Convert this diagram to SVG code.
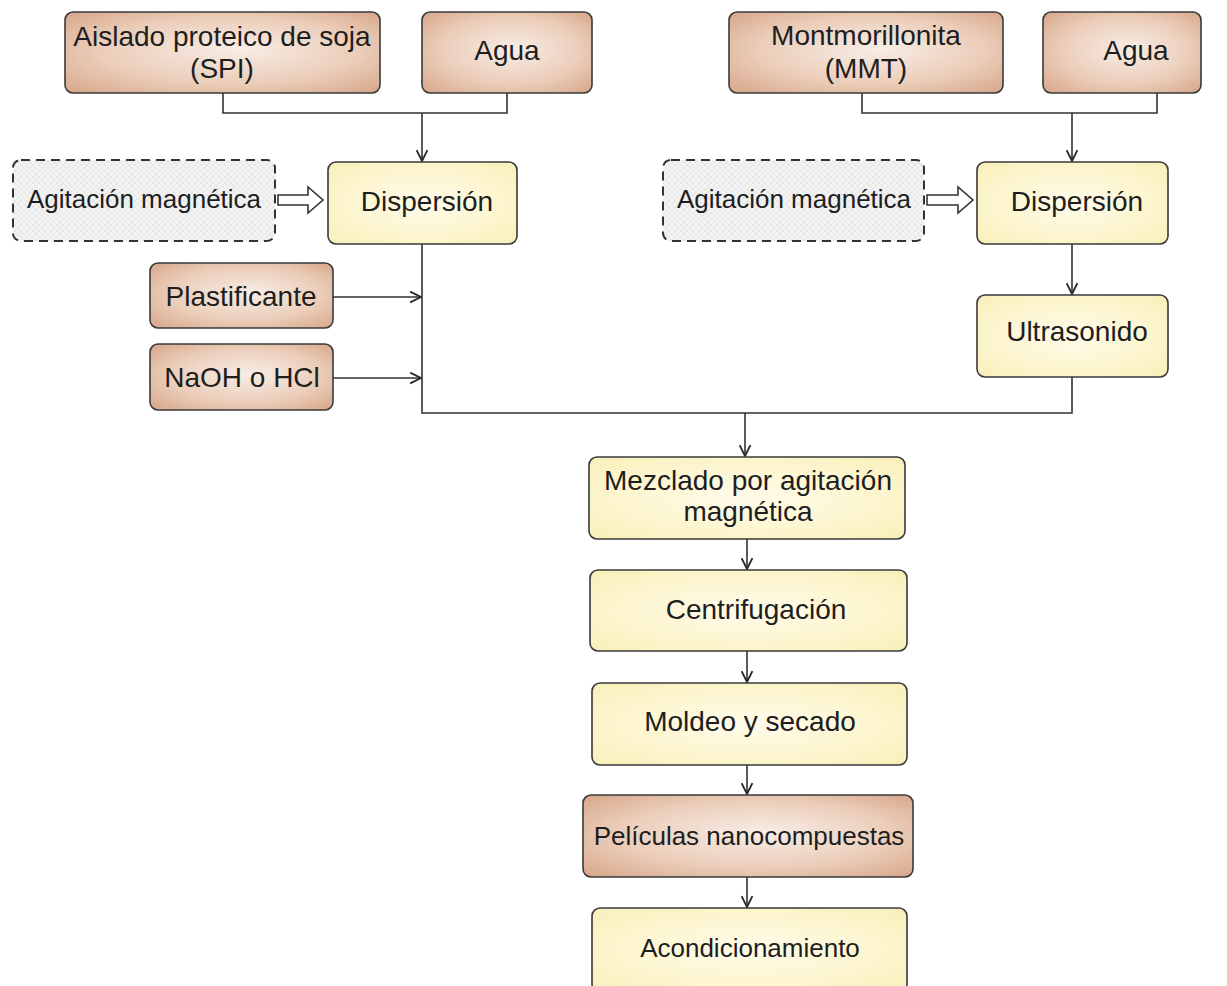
<svg xmlns="http://www.w3.org/2000/svg" width="1227" height="986" viewBox="0 0 1227 986">
  <defs>
    <radialGradient id="brown" cx="0.5" cy="0.5" r="0.75" fx="0.55" fy="0.45">
      <stop offset="0" stop-color="#f8ede6"/>
      <stop offset="0.55" stop-color="#ebcdb9"/>
      <stop offset="1" stop-color="#d3a081"/>
    </radialGradient>
    <radialGradient id="yellow" cx="0.5" cy="0.5" r="0.75">
      <stop offset="0" stop-color="#fffbea"/>
      <stop offset="0.6" stop-color="#fcf5cc"/>
      <stop offset="1" stop-color="#f7eeb4"/>
    </radialGradient>
    <pattern id="hatch" width="6" height="6" patternUnits="userSpaceOnUse">
      <rect width="6" height="6" fill="#f3f3f3"/>
      <path d="M0 6L6 0M0 0L6 6" stroke="#e6e6e6" stroke-width="1"/>
    </pattern>
    <marker id="arrow" viewBox="0 0 12 12" refX="11" refY="6" markerWidth="13" markerHeight="13" markerUnits="userSpaceOnUse" orient="auto">
      <path d="M1 1L11 6L1 11" fill="none" stroke="#2a2a2a" stroke-width="1.7"/>
    </marker>
  </defs>
  <style>
    .b { fill: url(#brown); stroke: #3a3a3a; stroke-width: 1.6; }
    .y { fill: url(#yellow); stroke: #3a3a3a; stroke-width: 1.6; }
    .d { fill: url(#hatch); stroke: #333; stroke-width: 2; stroke-dasharray: 9 6; }
    .t { font-family: "Liberation Sans", Arial, sans-serif; font-size: 28px; fill: #1e1e1e; text-anchor: middle; }
    .s { font-size: 26px; }
    .c { fill: none; stroke: #333; stroke-width: 1.6; }
    .h { fill: #fff; stroke: #333; stroke-width: 1.6; }
  </style>
  <rect width="1227" height="986" fill="#fff"/>

  <!-- connectors -->
  <g id="connectors">
    <path class="c" d="M223 93V113H507V93"/>
    <path class="c" d="M422 113V161" marker-end="url(#arrow)"/>
    <path class="c" d="M862 93V113H1157V93"/>
    <path class="c" d="M1072 113V161" marker-end="url(#arrow)"/>
    <path class="c" d="M1072 244V294" marker-end="url(#arrow)"/>
    <path class="c" d="M422 244V413H1072V377"/>
    <path class="c" d="M333 297H421" marker-end="url(#arrow)"/>
    <path class="c" d="M333 378H421" marker-end="url(#arrow)"/>
    <path class="c" d="M745 413V456" marker-end="url(#arrow)"/>
    <path class="c" d="M747 539V569" marker-end="url(#arrow)"/>
    <path class="c" d="M747 651V682" marker-end="url(#arrow)"/>
    <path class="c" d="M747 765V794" marker-end="url(#arrow)"/>
    <path class="c" d="M747 877V907" marker-end="url(#arrow)"/>
    <!-- hollow block arrows -->
    <path class="h" d="M278 195H308V187L323 200L308 213V205H278Z"/>
    <path class="h" d="M927 195H958V187L973 200L958 213V205H927Z"/>
  </g>

  <g id="spi">
    <rect class="b" x="65" y="12" width="315" height="81" rx="8"/>
    <text class="t" x="222" y="46">Aislado proteico de soja</text>
    <text class="t" x="222" y="78">(SPI)</text>
  </g>
  <g id="agua1">
    <rect class="b" x="422" y="12" width="170" height="81" rx="8"/>
    <text class="t" x="507" y="60">Agua</text>
  </g>
  <g id="agitacion1">
    <rect class="d" x="13" y="160" width="262" height="81" rx="8"/>
    <text class="t s" x="144" y="208">Agitación magnética</text>
  </g>
  <g id="dispersion1">
    <rect class="y" x="328" y="162" width="189" height="82" rx="8"/>
    <text class="t" x="427" y="211">Dispersión</text>
  </g>
  <g id="plastificante">
    <rect class="b" x="150" y="263" width="183" height="65" rx="8"/>
    <text class="t" x="241" y="306">Plastificante</text>
  </g>
  <g id="naoh">
    <rect class="b" x="150" y="344" width="183" height="66" rx="8"/>
    <text class="t" x="242" y="387">NaOH o HCl</text>
  </g>

  <g id="mmt">
    <rect class="b" x="729" y="12" width="274" height="81" rx="8"/>
    <text class="t" x="866" y="45">Montmorillonita</text>
    <text class="t" x="866" y="78">(MMT)</text>
  </g>
  <g id="agua2">
    <rect class="b" x="1043" y="12" width="158" height="81" rx="8"/>
    <text class="t" x="1136" y="60">Agua</text>
  </g>
  <g id="agitacion2">
    <rect class="d" x="663" y="160" width="261" height="81" rx="8"/>
    <text class="t s" x="794" y="208">Agitación magnética</text>
  </g>
  <g id="dispersion2">
    <rect class="y" x="977" y="162" width="191" height="82" rx="8"/>
    <text class="t" x="1077" y="211">Dispersión</text>
  </g>
  <g id="ultrasonido">
    <rect class="y" x="977" y="295" width="191" height="82" rx="8"/>
    <text class="t" x="1077" y="341">Ultrasonido</text>
  </g>

  <g id="mezclado">
    <rect class="y" x="589" y="457" width="316" height="82" rx="8"/>
    <text class="t" x="748" y="490">Mezclado por agitación</text>
    <text class="t" x="748" y="521">magnética</text>
  </g>
  <g id="centrifugacion">
    <rect class="y" x="590" y="570" width="317" height="81" rx="8"/>
    <text class="t" x="756" y="619">Centrifugación</text>
  </g>
  <g id="moldeo">
    <rect class="y" x="592" y="683" width="315" height="82" rx="8"/>
    <text class="t" x="750" y="731">Moldeo y secado</text>
  </g>
  <g id="peliculas">
    <rect class="b" x="583" y="795" width="330" height="82" rx="8"/>
    <text class="t s" x="749" y="845">Películas nanocompuestas</text>
  </g>
  <g id="acondicionamiento">
    <rect class="y" x="592" y="908" width="315" height="84" rx="8"/>
    <text class="t s" x="750" y="957">Acondicionamiento</text>
  </g>
</svg>
